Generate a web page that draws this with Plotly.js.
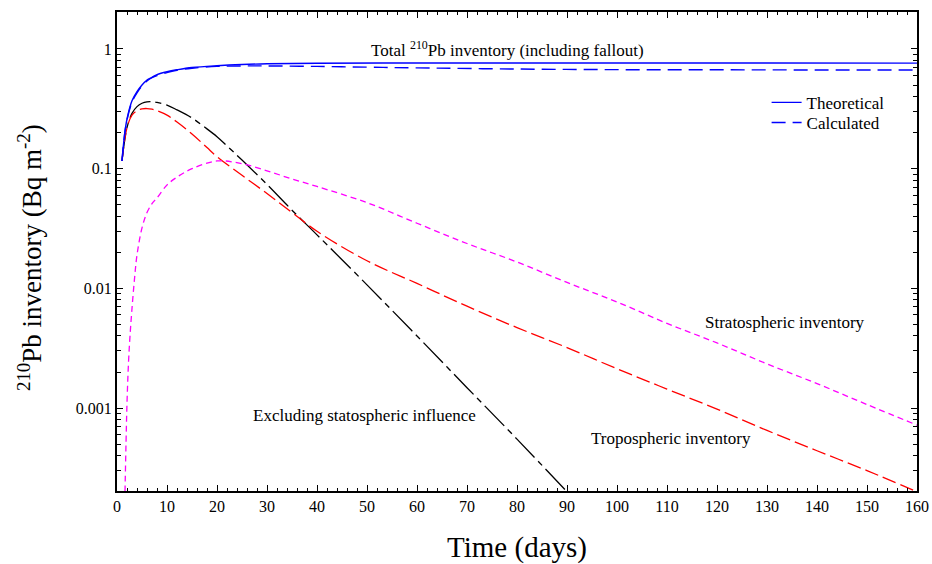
<!DOCTYPE html>
<html>
<head>
<meta charset="utf-8">
<script src="https://cdn.plot.ly/plotly-3.0.1.min.js"></script>
<style>html,body{margin:0;padding:0;background:#fff;}#chart{width:932px;height:564px;}</style>
</head>
<body>
<div id="chart"></div>
<script>
// Total inventory, theoretical (solid blue)
var theoDays = [1, 1.5, 2, 3, 4, 5, 6, 7, 8, 10, 12, 15, 20, 25, 30, 40, 60, 80, 100, 130, 160];
var theoVals = [0.116, 0.19, 0.26, 0.37, 0.44, 0.50, 0.55, 0.58, 0.61, 0.645, 0.67, 0.70, 0.725, 0.742, 0.752, 0.76, 0.764, 0.764, 0.764, 0.763, 0.762];

// Total inventory, calculated (dashed blue)
var calcDays = [1, 1.5, 2, 3, 4, 5, 6, 7, 8, 10, 12, 15, 20, 25, 30, 40, 50, 60, 80, 100, 120, 140, 160];
var calcVals = [0.116, 0.19, 0.255, 0.36, 0.43, 0.49, 0.54, 0.575, 0.60, 0.635, 0.665, 0.69, 0.715, 0.722, 0.722, 0.715, 0.705, 0.695, 0.68, 0.672, 0.67, 0.668, 0.667];

// Excluding stratospheric influence (black)
var exclDays = [1, 2, 3, 4, 5, 6, 7, 8, 10, 12, 15, 18, 20, 22, 25, 30, 35, 40, 50, 60, 70, 80, 90];
var exclVals = [0.116, 0.22, 0.29, 0.33, 0.352, 0.362, 0.363, 0.358, 0.34, 0.31, 0.265, 0.215, 0.185, 0.155, 0.118, 0.074, 0.045, 0.028, 0.0107, 0.0040, 0.00148, 0.00055, 0.0002];

// Tropospheric inventory (red)
var tropDays = [1, 2, 3, 4, 5, 6, 7, 8, 10, 12, 15, 18, 20, 25, 30, 35, 40, 50, 60, 70, 80, 90, 100, 110, 120, 130, 140, 150, 160];
var tropVals = [0.116, 0.22, 0.28, 0.305, 0.316, 0.318, 0.314, 0.305, 0.28, 0.245, 0.195, 0.15, 0.126, 0.088, 0.062, 0.043, 0.030, 0.017, 0.0110, 0.0071, 0.0047, 0.0032, 0.00213, 0.00144, 0.00098, 0.00065, 0.00044, 0.00030, 0.0002];

// Stratospheric inventory (magenta)
var stratDays = [1.6, 1.8, 2, 2.3, 2.6, 3, 3.5, 4, 5, 6, 7, 8, 10, 12, 15, 20, 25, 30, 35, 40, 50, 60, 70, 80, 90, 100, 110, 120, 130, 140, 150, 160];
var stratVals = [0.0002, 0.0005, 0.0011, 0.0024, 0.0040, 0.0068, 0.012, 0.019, 0.032, 0.043, 0.051, 0.057, 0.073, 0.085, 0.100, 0.116, 0.110, 0.096, 0.082, 0.071, 0.052, 0.035, 0.0237, 0.0166, 0.0112, 0.0077, 0.0051, 0.0035, 0.00234, 0.0016, 0.00107, 0.00072];

// Tick labels
var yTickVals = [1, 0.1, 0.01, 0.001];
var yTickText = ['1', '0.1', '0.01', '0.001'];
var xTickVals = [0, 10, 20, 30, 40, 50, 60, 70, 80, 90, 100, 110, 120, 130, 140, 150, 160];

var yMinor = [];
[0.0001, 0.001, 0.01, 0.1, 1].forEach(function (d) {
  for (var k = 2; k <= 9; k++) yMinor.push(d * k);
});

var FONT = 'Liberation Serif';

var traces = [
  {x: exclDays, y: exclVals, mode: 'lines', line: {color: '#000000', width: 1.3, dash: '28px,5px,6px,5px', shape: 'spline'}, showlegend: false, hoverinfo: 'skip'},
  {x: tropDays, y: tropVals, mode: 'lines', line: {color: '#ff0000', width: 1.3, dash: '14px,5px', shape: 'spline'}, showlegend: false, hoverinfo: 'skip'},
  {x: stratDays, y: stratVals, mode: 'lines', line: {color: '#ff00ff', width: 1.3, dash: '6px,4px', shape: 'spline'}, showlegend: false, hoverinfo: 'skip'},
  {x: theoDays, y: theoVals, mode: 'lines', name: 'Theoretical', legend: 'legend', line: {color: '#0000ff', width: 1.4, shape: 'spline'}},
  {x: calcDays, y: calcVals, mode: 'lines', name: 'Calculated', legend: 'legend2', line: {color: '#0000ff', width: 1.4, dash: '14px,7px', shape: 'spline'}}
];

var legendBase = {xanchor: 'left', yanchor: 'top', bgcolor: 'rgba(0,0,0,0)', borderwidth: 0, font: {family: FONT, size: 17}};

var layout = {
  width: 932, height: 564,
  margin: {l: 117, r: 15, t: 12, b: 73},
  paper_bgcolor: '#ffffff', plot_bgcolor: '#ffffff',
  font: {family: FONT, color: '#000000', size: 16},
  showlegend: true,
  legend: Object.assign({x: 0.812, y: 0.848}, legendBase),
  legend2: Object.assign({x: 0.812, y: 0.806}, legendBase),
  xaxis: {
    range: [0, 160], tickmode: 'array', tickvals: xTickVals,
    ticks: 'inside', ticklen: 6, tickwidth: 1, tickcolor: '#000',
    showline: true, linewidth: 2, linecolor: '#000', mirror: 'allticks',
    showgrid: false, zeroline: false,
    tickfont: {family: FONT, size: 16},
    minor: {dtick: 2, ticks: 'inside', ticklen: 3, tickwidth: 1, tickcolor: '#000', showgrid: false},
    title: {text: 'Time (days)', font: {family: FONT, size: 29}, standoff: 22}
  },
  yaxis: {
    type: 'log', range: [-3.693, 0.309], tickmode: 'array', tickvals: yTickVals, ticktext: yTickText,
    ticks: 'inside', ticklen: 6, tickwidth: 1, tickcolor: '#000',
    showline: true, linewidth: 2, linecolor: '#000', mirror: 'allticks',
    showgrid: false, zeroline: false,
    tickfont: {family: FONT, size: 16},
    minor: {tickmode: 'array', tickvals: yMinor, ticks: 'inside', ticklen: 4, tickwidth: 1, tickcolor: '#000', showgrid: false}
  },
  annotations: [
    {x: -0.109, y: 0.488, xref: 'paper', yref: 'paper', text: '<sup>210</sup>Pb inventory (Bq m<sup>-2</sup>)', textangle: -90, showarrow: false, font: {family: FONT, size: 27}, xanchor: 'center', yanchor: 'middle'},
    {x: 78, y: 0, xref: 'x', yref: 'y', text: 'Total <sup>210</sup>Pb inventory (including fallout)', showarrow: false, font: {family: FONT, size: 17}, yanchor: 'middle'},
    {x: 133.6, y: -2.285, xref: 'x', yref: 'y', text: 'Stratospheric inventory', showarrow: false, font: {family: FONT, size: 17}},
    {x: 110.8, y: -3.254, xref: 'x', yref: 'y', text: 'Tropospheric inventory', showarrow: false, font: {family: FONT, size: 17}},
    {x: 49.4, y: -3.06, xref: 'x', yref: 'y', text: 'Excluding statospheric influence', showarrow: false, font: {family: FONT, size: 17}}
  ]
};

Plotly.newPlot('chart', traces, layout, {staticPlot: true, displayModeBar: false});
</script>
</body>
</html>
